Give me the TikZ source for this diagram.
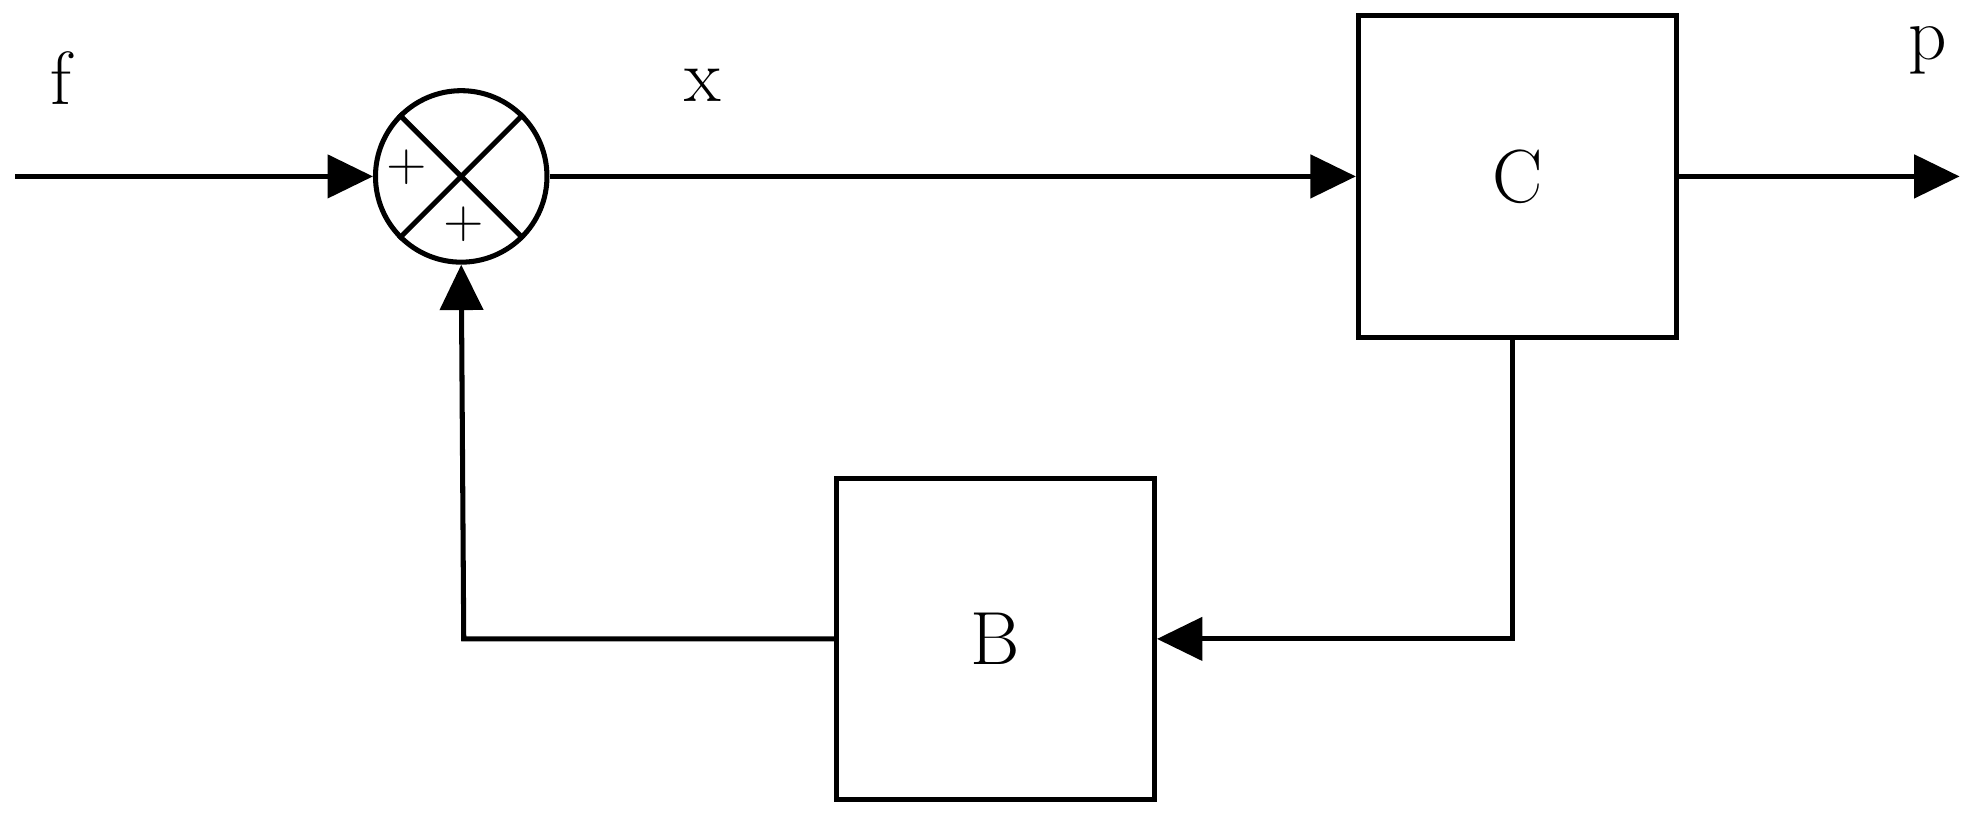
\documentclass[tikz,border=0pt]{standalone}
\usetikzlibrary{arrows.meta}
\begin{document}
\begin{tikzpicture}[x=0.01cm,y=-0.01cm,
  line width=0.04cm,
  arr/.style={-{Triangle[length=0.36cm,width=0.34cm]}},
  blk/.style={draw,minimum width=2.52cm,minimum height=2.55cm,inner sep=0pt,font=\fontsize{17}{20}\selectfont},
  lbl/.style={font=\fontsize{17}{20}\selectfont},
  sgn/.style={font=\fontsize{12}{14}\selectfont,inner sep=0pt}]
\useasboundingbox (0,0) rectangle (1568,658);
\node[draw,circle,minimum size=1.36cm,inner sep=0pt] (s) at (366,140) {};
\draw (s.north west) -- (s.south east);
\draw (s.north east) -- (s.south west);
\node[sgn] (p1) at (323,133) {+};
\node[sgn] (p2) at (368,178) {+};
\node[blk] (C) at (1204,140) {C};
\node[blk] (B) at (790,507) {B};
\coordinate (in) at (12,140);
\coordinate (out) at (1555,140);
\coordinate (c1) at (1200,507);
\coordinate (c2) at (368,507);
\node[lbl] (f) at (48,62) {f};
\node[lbl] (x) at (558,68) {x};
\node[lbl] (p) at (1530,40) {p};
\draw[arr] (in) -- (s.west);
\draw[arr] (s.east) -- (C.west);
\draw[arr] (C.east) -- (out);
\draw[arr] (C.south -| c1) -- (c1) -- (B.east);
\draw[arr] (B.west) -- (c2) -- (s.south);
\end{tikzpicture}
\end{document}
